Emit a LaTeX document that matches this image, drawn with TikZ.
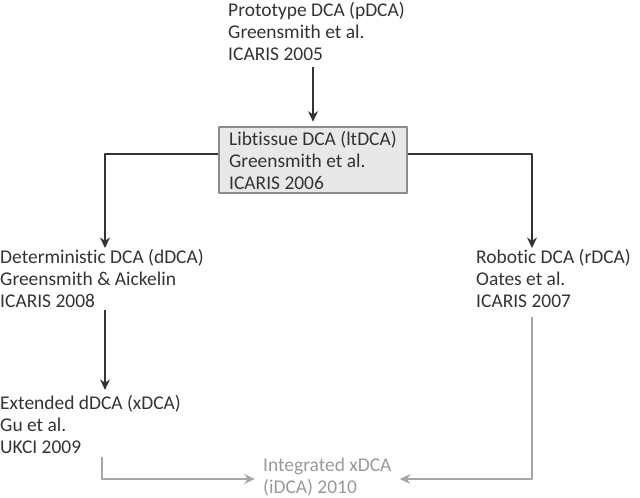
\documentclass[tikz,border=0pt]{standalone}
\usepackage{fontspec}
\setmainfont{Carlito}[Ligatures=NoCommon]
\usepackage{tikz}
\usetikzlibrary{arrows.meta,calc}

\begin{document}
\begin{tikzpicture}[x=0.03cm,y=-0.03cm,>={Stealth[length=9pt,width=8.5pt]},line join=round,
  txt/.style={anchor=west,align=left,inner sep=0pt,text=black!80,font=\fontsize{16.6}{18.8}\selectfont},
  dark/.style={draw=black!80,line width=0.9pt},
  pale/.style={draw=black!35,line width=0.9pt}]
  \useasboundingbox (0,0) rectangle (640,497);
  % corners of the connectors
  \coordinate (DL) at (105,248);
  \coordinate (DR) at (532,248);
  \coordinate (XL) at (102,0);
  \coordinate (XR) at (532,0);
  \node[txt] (pdca) at (228,31) {Prototype DCA (pDCA)\\Greensmith et al.\\ICARIS 2005};
  \node[txt,anchor=center,draw=black!45,fill=black!9,line width=1.1pt,
        minimum width=5.64cm,minimum height=1.98cm] (ltdca) at (313,160)
        {Libtissue DCA (ltDCA)\\Greensmith et al.\\ICARIS 2006};
  \node[txt] (ddca) at (0,278) {Deterministic DCA (dDCA)\\Greensmith \& Aickelin\\ICARIS 2008};
  \node[txt] (rdca) at (476,278) {Robotic DCA (rDCA)\\Oates et al.\\ICARIS 2007};
  \node[txt] (xdca) at (0,424) {Extended dDCA (xDCA)\\Gu et al.\\UKCI 2009};
  \node[txt,text=black!40] (idca) at (263,477) {Integrated xDCA\\(iDCA) 2010};
  \draw[dark,->,shorten <=6pt,shorten >=4pt] (pdca.south -| ltdca.north) -- (ltdca.north);
  \draw[dark,->] ($(ltdca.west)+(0,-6)$) -| (DL);
  \draw[dark,->] ($(ltdca.east)+(0,-6)$) -| (DR);
  \draw[dark,->,shorten <=2pt,shorten >=4pt] (ddca.south -| DL) -- (xdca.north -| DL);
  \draw[pale,->,shorten <=3pt,shorten >=7pt] (xdca.south -| XL) |- ($(idca.west)+(0,2)$);
  \draw[pale,->,shorten <=8pt,shorten >=7pt] (rdca.south -| XR) |- ($(idca.east)+(0,2)$);
\end{tikzpicture}
\end{document}
